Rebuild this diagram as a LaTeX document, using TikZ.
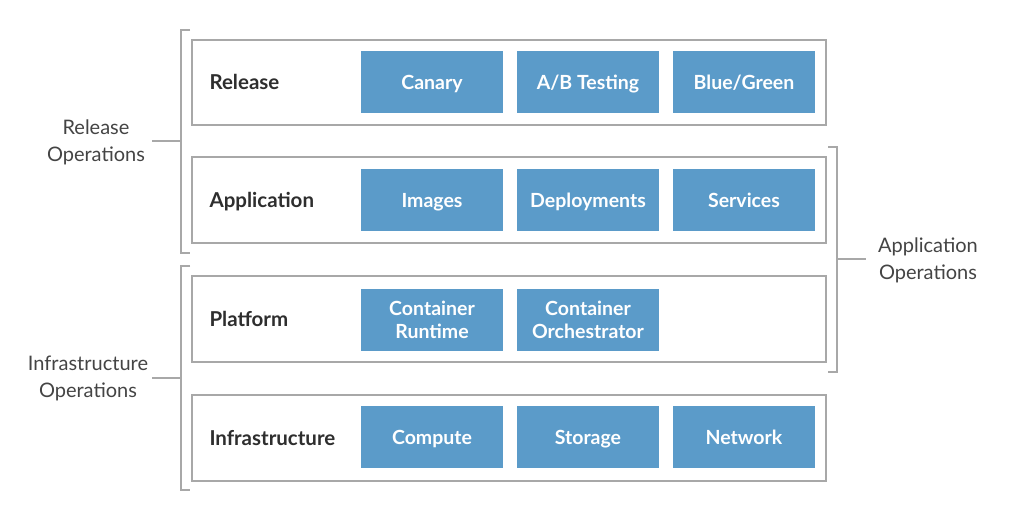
\documentclass[tikz,border=0pt]{standalone}
\usepackage{fontspec}
\setmainfont{Lato}
\definecolor{boxblue}{HTML}{5B9BC9}
\definecolor{framegray}{HTML}{A8A8A8}
\definecolor{txt}{HTML}{2E2E2E}
\definecolor{sidetxt}{HTML}{444444}
\begin{document}
\begin{tikzpicture}[x=1pt,y=-1pt,
  layer/.style={draw=framegray,line width=1.8pt,fill=white},
  tilebase/.style={fill=boxblue,draw=none,minimum width=142pt,minimum height=62pt,inner sep=0pt,
    text=white,font=\fontsize{19.5}{23}\selectfont\bfseries,align=center},
  tile/.style={tilebase,text height=16pt,text depth=2pt},
  tiletwo/.style={tilebase},
  lname/.style={anchor=west,text=txt,font=\fontsize{20.5}{24}\selectfont\bfseries,text height=17pt,text depth=2pt},
  side/.style={text=sidetxt,font=\fontsize{20}{27}\selectfont,align=center},
  brk/.style={draw=framegray,line width=1.5pt}]
\useasboundingbox (0,0) rectangle (1014,509);
\fill[white] (0,0) rectangle (1014,509);
% layers
\draw[layer] (192,40) rectangle (826,125);
\draw[layer] (192,157) rectangle (826,243);
\draw[layer] (192,276) rectangle (826,362);
\draw[layer] (192,395) rectangle (826,481);
% layer names
\node[lname] (rel) at (206,82) {Release};
\node[lname] (app) at (206,200) {Application};
\node[lname] (plat) at (206,319) {Platform};
\node[lname] (infra) at (206,438) {Infrastructure};
% tiles
\node[tile] (canary) at (432,82) {Canary};
\node[tile] (ab) at (588,82) {A/B Testing};
\node[tile] (bg) at (744,82) {Blue/Green};
\node[tile] (img) at (432,200) {Images};
\node[tile] (dep) at (588,200) {Deployments};
\node[tile] (svc) at (744,200) {Services};
\node[tiletwo] (crt) at (432,320) {Container\\Runtime};
\node[tiletwo] (corc) at (588,320) {Container\\Orchestrator};
\node[tile] (comp) at (432,437) {Compute};
\node[tile] (stor) at (588,437) {Storage};
\node[tile] (net) at (744,437) {Network};
% brackets
\coordinate (rb1) at (190,30);
\coordinate (rb2) at (190,253);
\draw[brk] (rb1) -- (181,30) -- (181,253) -- (rb2);
\coordinate (rs) at (152,141);
\draw[brk] (rs) -- (181,141);
\coordinate (ib1) at (190,266);
\coordinate (ib2) at (190,490);
\draw[brk] (ib1) -- (181,266) -- (181,490) -- (ib2);
\coordinate (is) at (152,378);
\draw[brk] (is) -- (181,378);
\coordinate (ab1) at (828,147);
\coordinate (ab2) at (828,372);
\draw[brk] (ab1) -- (837,147) -- (837,372) -- (ab2);
\coordinate (as) at (866,259);
\draw[brk] (837,259) -- (as);
% side labels
\node[side] (relops) at (96,142) {Release\\Operations};
\node[side] (infops) at (88,378) {Infrastructure\\Operations};
\node[side] (appops) at (928,260) {Application\\Operations};
\end{tikzpicture}
\end{document}
